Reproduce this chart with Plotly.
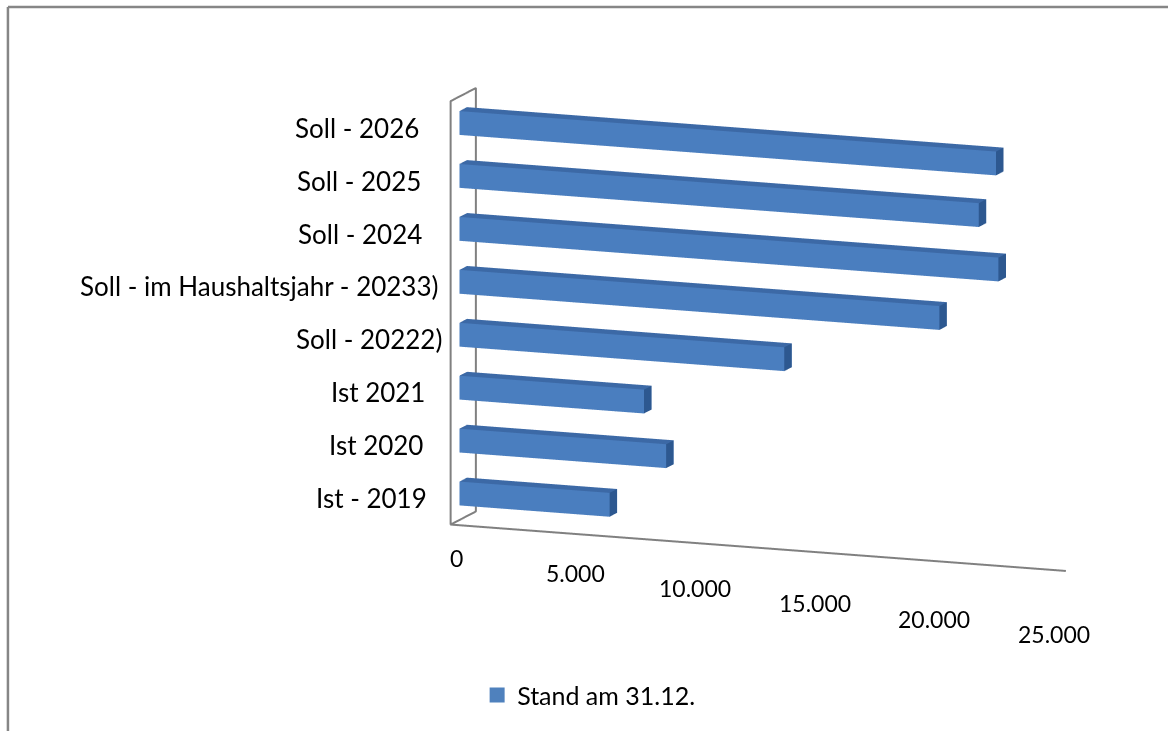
import plotly.graph_objects as go

# ---- data -------------------------------------------------------------
categories = [
    "Ist - 2019",
    "Ist 2020",
    "Ist 2021",
    "Soll - 20222)",
    "Soll - im Haushaltsjahr - 20233)",
    "Soll - 2024",
    "Soll - 2025",
    "Soll - 2026",
]
stand_values = [6100, 8400, 7500, 13200, 19500, 21900, 21100, 21800]
value_ticks = [0, 5000, 10000, 15000, 20000, 25000]
series_name = "Stand am 31.12."

# ---- style ------------------------------------------------------------
FRONT = "#4A7EBF"
TOP = "#3C69A6"
SIDE = "#2D5890"
WALL = "#808080"
FONT = "Lato"
VMAX = 25000
BAR_Y = (0.35, 0.65)      # bar depth inside the unit-deep wall
BAR_HALF = 0.225          # half bar thickness in category slots
label_gap = [22, 26, 24, 7, 11, 27, 28, 30]

# ---- 3D bars as boxes -------------------------------------------------
xs, ys, zs, ii, jj, kk, fc = [], [], [], [], [], [], []
for idx, val in enumerate(stand_values):
    y0, y1 = BAR_Y
    z0, z1 = idx + 0.5 - BAR_HALF, idx + 0.5 + BAR_HALF
    base = len(xs)
    xs += [0, val, val, 0, 0, val, val, 0]
    ys += [y0, y0, y1, y1, y0, y0, y1, y1]
    zs += [z0, z0, z0, z0, z1, z1, z1, z1]
    faces = [
        ((0, 1, 5), FRONT), ((0, 5, 4), FRONT),   # front
        ((3, 2, 6), FRONT), ((3, 6, 7), FRONT),   # back
        ((0, 1, 2), SIDE), ((0, 2, 3), SIDE),     # bottom
        ((4, 5, 6), TOP), ((4, 6, 7), TOP),       # top
        ((1, 2, 6), SIDE), ((1, 6, 5), SIDE),     # value end
        ((0, 3, 7), SIDE), ((0, 7, 4), SIDE),     # base end
    ]
    for (a, b, c), col in faces:
        ii.append(base + a)
        jj.append(base + b)
        kk.append(base + c)
        fc.append(col)

bars = go.Mesh3d(
    x=xs, y=ys, z=zs, i=ii, j=jj, k=kk,
    facecolor=fc, flatshading=True,
    lighting=dict(ambient=1.0, diffuse=0.0, specular=0.0, roughness=1.0, fresnel=0.0),
    hoverinfo="skip", showlegend=False, name=series_name,
)

# side wall and floor edge
n_cat = len(categories)
wall = go.Scatter3d(
    x=[VMAX, 0, 0, 0, 0, 0],
    y=[0, 0, 0, 1, 1, 0],
    z=[0, 0, n_cat, n_cat, 0, 0],
    mode="lines", line=dict(color=WALL, width=4),
    hoverinfo="skip", showlegend=False,
)

legend_key = go.Scatter3d(
    x=[None], y=[None], z=[None], mode="markers",
    marker=dict(symbol="square", size=15, color="#4F81BD"),
    name=series_name, showlegend=True,
)

annotations = []
for idx, cat in enumerate(categories):
    annotations.append(dict(
        x=0, y=0, z=idx + 0.5, text=cat, showarrow=False,
        xanchor="right", yanchor="middle", xshift=-label_gap[idx],
        font=dict(family=FONT, size=26, color="black"),
    ))
for t in value_ticks:
    tk = t / 1000
    annotations.append(dict(
        x=t, y=0, z=0, text=f"{t:,}".replace(",", "."), showarrow=False,
        xanchor="center", yanchor="middle",
        xshift=5 - 0.7 * tk, yshift=-(33 + 1.2 * tk),
        font=dict(family=FONT, size=23, color="black"),
    ))

hidden = dict(visible=False)
fig = go.Figure([bars, wall, legend_key])
fig.update_layout(
    width=1168, height=731,
    margin=dict(l=0, r=0, t=0, b=0),
    paper_bgcolor="white",
    font=dict(family=FONT, size=25, color="black"),
    scene=dict(
        domain=dict(x=[0.33, 0.991], y=[0.10, 0.9984]),
        xaxis=dict(range=[0, VMAX + 10], **hidden),
        yaxis=dict(range=[0, 1], **hidden),
        zaxis=dict(range=[0, n_cat], **hidden),
        aspectmode="manual",
        aspectratio=dict(x=2.005, y=0.2157, z=1.315),
        camera=dict(
            eye=dict(x=0.8723, y=-2.2903, z=0.4950),
            center=dict(x=0, y=0, z=0),
            up=dict(x=0, y=0, z=1),
            projection=dict(type="orthographic"),
        ),
        bgcolor="white",
        annotations=annotations,
    ),
    legend=dict(
        orientation="h", x=0.4085, xanchor="left", y=0.049, yanchor="middle",
        font=dict(family=FONT, size=25, color="black"),
        bgcolor="rgba(0,0,0,0)",
    ),
    shapes=[
        dict(type="line", xref="paper", yref="paper", x0=0.0068, x1=1.0,
             y0=0.9904, y1=0.9904, line=dict(color="#868686", width=2.5)),
        dict(type="line", xref="paper", yref="paper", x0=0.0068, x1=0.0068,
             y0=0.0, y1=0.9904, line=dict(color="#868686", width=2.5)),
    ],
)

fig.write_html("out.html", config=dict(displayModeBar=False))
